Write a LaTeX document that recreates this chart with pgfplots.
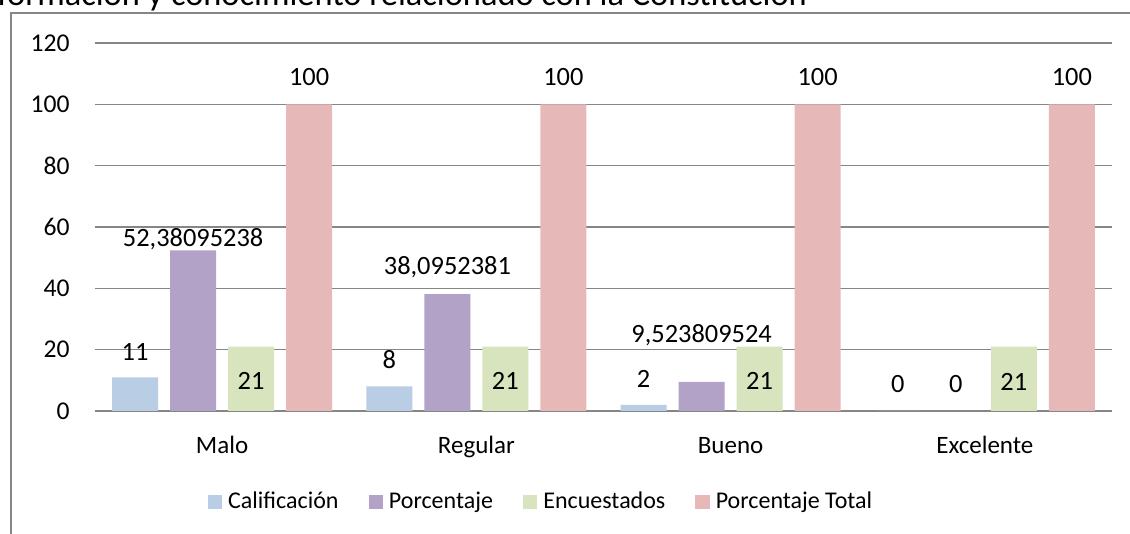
\documentclass[border=0pt]{standalone}
\usepackage{fontspec}
\setmainfont{Carlito}
\usepackage{pgfplots}
\usepackage{pgfplotstable}
\pgfplotsset{compat=1.18}
\definecolor{cCal}{HTML}{B9CDE5}
\definecolor{cPor}{HTML}{B3A2C7}
\definecolor{cEnc}{HTML}{D7E4BD}
\definecolor{cTot}{HTML}{E6B9B8}
\definecolor{gridc}{HTML}{868686}

\pgfplotstableread{
x y lab off
0 11 11 12.5
1 8 8 13.5
2 2 2 13
3 0 0 13.5
}\tCal
\pgfplotstableread{
x y lab off
0 52.38095238 52,38095238 5.5
1 38.0952381 38,0952381 13.5
2 9.523809524 9,523809524 23.5
3 0 0 13.5
}\tPor
\pgfplotstableread{
x y lab off
0 21 21 -17
1 21 21 -17
2 21 21 -17
3 21 21 -17.5
}\tEnc
\pgfplotstableread{
x y lab off
0 100 100 13.5
1 100 100 13.5
2 100 100 13.5
3 100 100 13.5
}\tTot

\begin{document}
\begin{tikzpicture}
\begin{axis}[
  scale only axis,
  width=508.5pt, height=184pt,
  at={(47.5pt,61.5pt)}, anchor=south west,
  xmin=-0.5, xmax=3.5, ymin=0, ymax=120,
  ybar=6pt, bar width=23pt,
  ytick={0,20,...,120},
  xtick={0,1,2,3},
  xticklabels={Malo,Regular,Bueno,Excelente},
  major tick length=0pt,
  ymajorgrids,
  grid style={draw=gridc, line width=0.6pt},
  axis line style={draw=none},
  /pgf/number format/assume math mode=true,
  yticklabel style={font=\fontsize{12.8}{14}\selectfont, inner sep=0pt, anchor=east, xshift=-12.5pt},
  xticklabel style={font=\fontsize{12.5}{14}\selectfont, inner sep=0pt, anchor=base, yshift=-21.5pt},
  clip=false,
  point meta=explicit symbolic,
  nodes near coords,
  visualization depends on={\thisrow{off} \as \myoff},
  every node near coord/.append style={font=\fontsize{13.2}{15}\selectfont, anchor=center, inner sep=0pt, yshift=\myoff pt},
  legend columns=4,
  legend style={draw=none, fill=none, at={(axis description cs:0.4405,-0.247)}, anchor=center,
    font=\fontsize{12}{14}\selectfont,
    /tikz/every even column/.append style={column sep=12pt},
    nodes={inner xsep=3pt}},
  legend image code/.code={\fill[#1] (0pt,-3.6pt) rectangle (7.2pt,3.6pt);},
]
\addplot[fill=cCal, draw=none] table[x=x, y=y, meta=lab] {\tCal};
\addplot[fill=cPor, draw=none] table[x=x, y=y, meta=lab] {\tPor};
\addplot[fill=cEnc, draw=none] table[x=x, y=y, meta=lab] {\tEnc};
\addplot[fill=cTot, draw=none] table[x=x, y=y, meta=lab] {\tTot};
\legend{Calificación, Porcentaje, Encuestados, Porcentaje Total}
\end{axis}
\draw[gridc, line width=0.6pt] (5.5pt,-10pt) -- (5.5pt,260.5pt) -- (580pt,260.5pt);
\node[anchor=base west, inner sep=0pt, font=\fontsize{17.2}{20}\selectfont] at (-1.5pt,264pt) {formación y conocimiento relacionado con la Constitución};
\pgfresetboundingbox
\path[use as bounding box] (0,0) rectangle (565pt,267pt);
\end{tikzpicture}
\end{document}
